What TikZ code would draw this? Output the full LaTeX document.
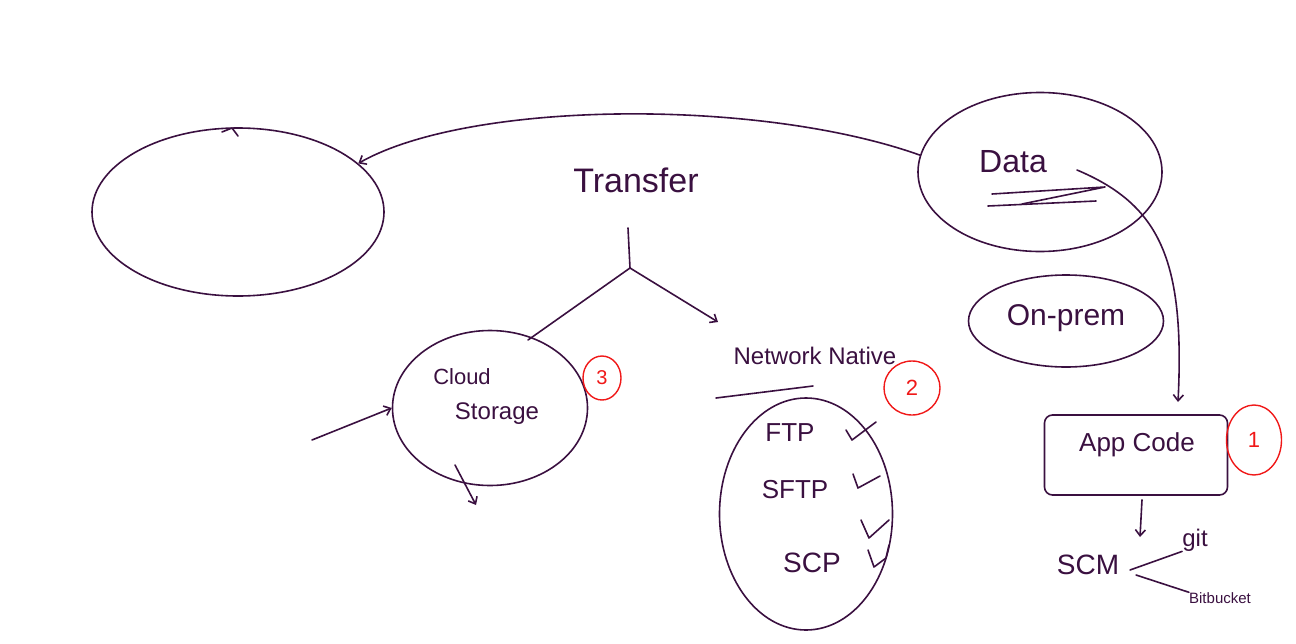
\documentclass[tikz,border=0pt]{standalone}
\usepackage{fontspec}
\setmainfont{Liberation Sans}
\usetikzlibrary{shapes.geometric,arrows.meta}
\definecolor{ink}{HTML}{3A1040}
\definecolor{redink}{HTML}{F01818}
\tikzset{
  pen/.style={draw=ink,line width=1.6pt,line cap=round,line join=round},
  oval/.style={pen,ellipse,inner sep=0pt},
  redoval/.style={ellipse,draw=redink,line width=1.4pt,inner sep=0pt,text=redink},
  txt/.style={text=ink,inner sep=0pt},
  hook/.style={-{Straight Barb[length=6pt,width=10pt]}},
}
\begin{document}
\begin{tikzpicture}[x=1pt,y=-1pt]
\useasboundingbox (0,0) rectangle (1296,643);
% left empty ellipse
\node[oval,minimum width=292pt,minimum height=168pt] (left) at (238,212) {};
\draw[pen] (222,132) -- (232,128) -- (238,136);
% Transfer
\node[txt,font=\fontsize{34}{38}\selectfont] (transfer) at (636,180) {Transfer};
\coordinate (tt) at (628,228);
\coordinate (tj) at (630,268);
\coordinate (tl) at (528,340);
\coordinate (tr) at (718,322);
\draw[pen] (tt) -- (tj) -- (tl);
\draw[pen,hook] (tj) -- (tr);
% Data
\node[oval,minimum width=244pt,minimum height=159pt] (data) at (1040,172) {};
\node[txt,font=\fontsize{32}{36}\selectfont] (datat) at (1013,162) {Data};
\draw[pen] (992,194) -- (1105,187) -- (1022,204);
\draw[pen] (988,206) -- (1096,201);
\draw[pen,hook] (data.172) .. controls (760,98) and (470,100) .. (left.22);
% On-prem
\node[oval,minimum width=195pt,minimum height=92pt] (onprem) at (1066,321) {};
\node[txt,font=\fontsize{30}{34}\selectfont] (onpremt) at (1066,318) {On-prem};
% App code
\node[pen,rounded corners=8pt,minimum width=183pt,minimum height=80pt] (app) at (1136,455) {};
\node[txt,font=\fontsize{26}{30}\selectfont] (appt) at (1137,445) {App Code};
\coordinate (appin) at (1178,402);
\draw[pen,hook] ([shift={(30,8)}]datat.east) .. controls (1160,205) and (1185,260) .. (appin);
\node[redoval,minimum width=55pt,minimum height=70pt,font=\fontsize{22}{26}\selectfont] (r1) at (1254,440) {1};
% SCM
\node[txt,font=\fontsize{28}{32}\selectfont] (scm) at (1088,565) {SCM};
\coordinate (scmin) at (1140,537);
\draw[pen,hook] (app.south) ++(6,4) coordinate (appout) -- (scmin);
\node[txt,font=\fontsize{24}{28}\selectfont] (git) at (1195,540) {git};
\node[txt,font=\fontsize{15}{18}\selectfont] (bb) at (1220,598) {Bitbucket};
\coordinate (scmr) at (1130,570);
\draw[pen] (scmr) -- (git.south west);
\draw[pen] (1136,575) -- (bb.north west);
% Cloud storage
\node[oval,minimum width=195pt,minimum height=155pt] (cloud) at (490,408) {};
\node[txt,font=\fontsize{22}{26}\selectfont] (cloudt) at (462,377) {Cloud};
\node[txt,font=\fontsize{24}{28}\selectfont] (storaget) at (497,414) {Storage};
\node[redoval,minimum width=38pt,minimum height=44pt,font=\fontsize{20}{24}\selectfont] (r3) at (602,378) {3};
\coordinate (cin) at (312,440);
\coordinate (cdown) at (476,505);
\draw[pen,hook] (cin) -- (cloud.west);
\draw[pen,hook] (455,465) -- (cdown);
% Network native
\node[txt,font=\fontsize{24}{28}\selectfont] (nn) at (815,356) {Network Native};
\draw[pen] (716,398) -- (813,386);
\node[redoval,minimum width=56pt,minimum height=54pt,font=\fontsize{22}{26}\selectfont] (r2) at (912,388) {2};
\node[oval,minimum width=173pt,minimum height=232pt] (net) at (806,514) {};
\node[txt,font=\fontsize{26}{30}\selectfont] (ftp) at (790,433) {FTP};
\node[txt,font=\fontsize{26}{30}\selectfont] (sftp) at (795,490) {SFTP};
\node[txt,font=\fontsize{28}{32}\selectfont] (scp) at (812,563) {SCP};
% check marks
\draw[pen] (846,430) -- (852,440) -- (876,422);
\draw[pen] (853,474) -- (858,488) -- (880,476);
\draw[pen] (861,520) -- (869,538) -- (889,520);
\draw[pen] (868,550) -- (874,567) -- (886,558) -- (889,545);
\end{tikzpicture}
\end{document}
